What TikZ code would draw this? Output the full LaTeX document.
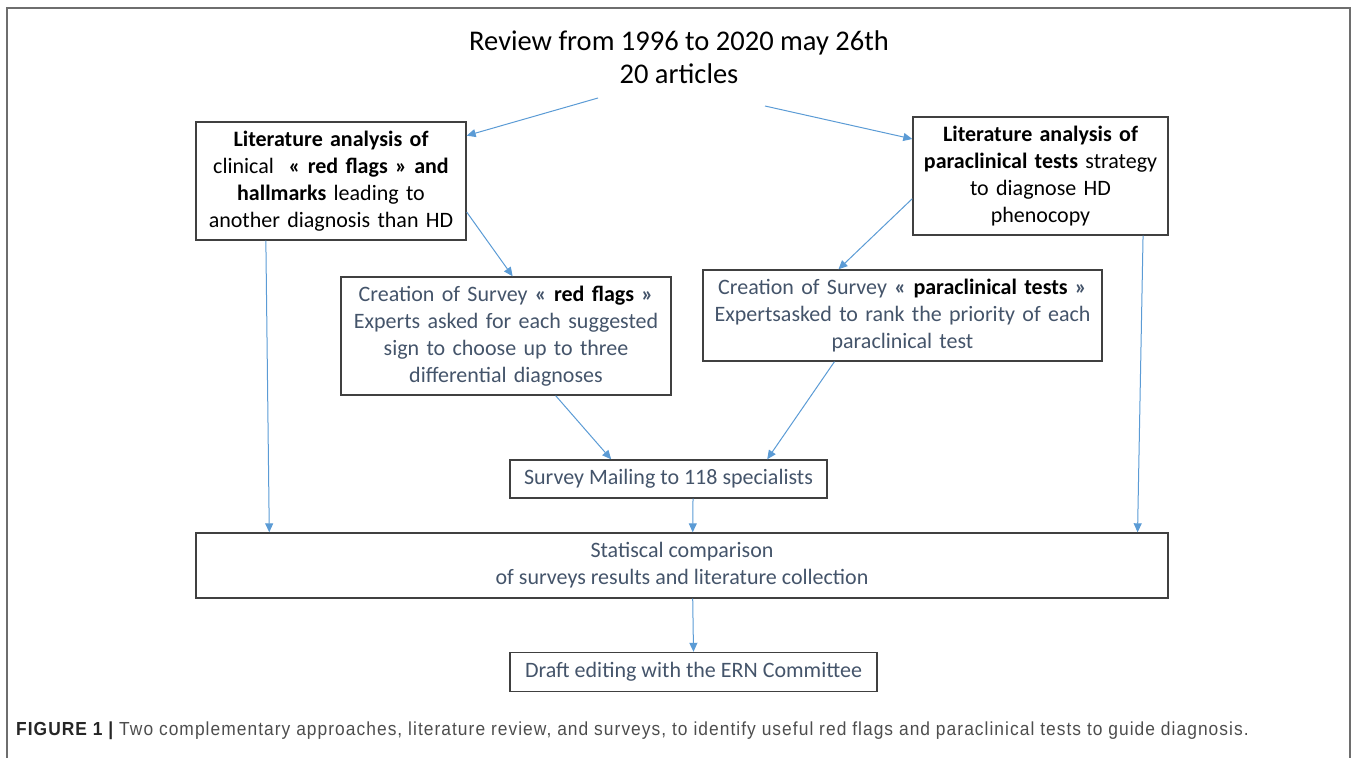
\documentclass[tikz,border=0pt]{standalone}
\usepackage{fontspec}
\setmainfont{Carlito}
\newfontfamily\capfont[FakeStretch=0.92, LetterSpace=5.5]{Liberation Sans}
\usetikzlibrary{arrows.meta,calc}
\definecolor{boxgray}{HTML}{404040}
\definecolor{framegray}{HTML}{6E6E6E}
\definecolor{flowblue}{HTML}{5B9BD5}
\definecolor{surveytext}{HTML}{44546A}
\definecolor{captext}{HTML}{4D4D4D}
\tikzset{
  box/.style={draw=boxgray, line width=1.4pt, align=center, inner sep=0pt,
    font=\fontsize{22}{27}\selectfont},
  survey/.style={box, text=surveytext},
  flow/.style={draw=flowblue, line width=1pt, -{Triangle[length=9pt,width=8pt]}}
}
\newcommand{\hi}[1]{\textbf{\color{black}#1}}

\begin{document}
\begin{tikzpicture}[x=1pt, y=-1pt]
    \useasboundingbox (0,0) rectangle (1358,758);
    % frame of the figure
    \draw[framegray, line width=2pt] (7,760) -- (7,8) -- (1350,8) -- (1350,760);

    \node[align=center, font=\fontsize{28.5}{33}\selectfont] (review) at (679,57)
        {Review from 1996 to 2020 may 26th\\20 articles};
    \coordinate (revL) at (598,98);
    \coordinate (revR) at (765,106);

    % literature analysis
    \node[box, minimum width=270, minimum height=118, text width=260] (litclin) at (331,181)
        {\textbf{Literature analysis of}\\ clinical\ \ \textbf{« red flags » and}\\
         \textbf{hallmarks} leading to\\ another diagnosis than HD};
    \node[box, minimum width=255, minimum height=118, text width=245] (litpara) at (1040.5,176)
        {\textbf{Literature analysis of}\\ \textbf{paraclinical tests} strategy\\
         to diagnose HD\\ phenocopy};

    % surveys
    \node[survey, minimum width=330, minimum height=118, text width=320] (svflags) at (506,336)
        {Creation of Survey \textbf{« \hi{red flags} »}\\ Experts asked for each suggested\\
         sign to choose up to three\\ differential diagnoses};
    \node[survey, minimum width=399, minimum height=91, text width=389] (svpara) at (902.5,315.5)
        {Creation of Survey \textbf{« \hi{paraclinical tests} »}\\
         Expertsasked to rank the priority of each\\ paraclinical test};
    \node[survey, minimum width=317, minimum height=38] (mailing) at (668.5,479)
        {Survey Mailing to 118 specialists};

    % comparison and draft
    \node[survey, minimum width=972, minimum height=65] (stat) at (682,565.5)
        {Statiscal comparison\\ of surveys results and literature collection};
    \node[survey, minimum width=367, minimum height=39] (draft) at (693.5,672)
        {Draft editing with the ERN Committee};

    % arrows
    \draw[flow] (revL) -- ($(litclin.north east)!0.12!(litclin.south east)$);
    \draw[flow] (revR) -- ($(litpara.north west)!0.19!(litpara.south west)$);
    \draw[flow] ($(litclin.north east)!0.76!(litclin.south east)$) -- ($(svflags.north west)!0.52!(svflags.north east)$);
    \draw[flow] ($(litpara.north west)!0.69!(litpara.south west)$) -- ($(svpara.north west)!0.34!(svpara.north east)$);
    \draw[flow] ($(litclin.south west)!0.26!(litclin.south east)$) -- ($(stat.north west)!0.076!(stat.north east)$);
    \draw[flow] ($(litpara.south west)!0.90!(litpara.south east)$) -- ($(stat.north west)!0.968!(stat.north east)$);
    \draw[flow] ($(svflags.south west)!0.65!(svflags.south east)$) -- ($(mailing.north west)!0.32!(mailing.north east)$);
    \draw[flow] ($(svpara.south west)!0.33!(svpara.south east)$) -- ($(mailing.north west)!0.81!(mailing.north east)$);
    \draw[flow] ($(mailing.south west)!0.577!(mailing.south east)$) -- ($(stat.north west)!0.511!(stat.north east)$);
    \draw[flow] ($(stat.south west)!0.511!(stat.south east)$) -- (draft.north);

    % caption
    \node[anchor=base west, inner sep=0pt, font=\capfont\fontsize{18.9}{20}\selectfont, text=captext] (caption) at (16,735)
        {\textbf{\color{black!85}FIGURE 1 |} Two complementary approaches, literature review, and surveys, to identify useful red flags and paraclinical tests to guide diagnosis.};
\end{tikzpicture}
\end{document}
